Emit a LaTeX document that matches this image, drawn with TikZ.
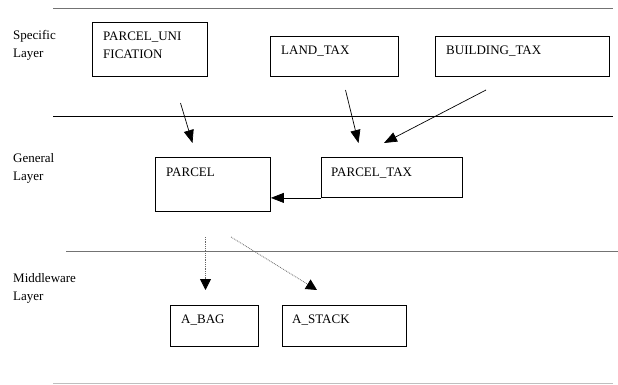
\documentclass[tikz,border=0pt]{standalone}
\usepackage{fontspec}
\setmainfont{Liberation Serif}
\usetikzlibrary{arrows.meta,calc}
\begin{document}
\begin{tikzpicture}[x=1pt,y=1pt,
  box/.style={draw=black,line width=0.9pt,inner sep=0pt,anchor=north west},
  txt/.style={anchor=base west,inner sep=0pt,font=\fontsize{13}{15}\selectfont},
  layerline/.style={line width=1pt},
  solidarrow/.style={line width=0.7pt,-{Triangle[length=13pt,width=10pt]}},
  dotarrow/.style={line width=0.8pt,densely dotted,draw=black!60,-{Triangle[length=11pt,width=11pt,fill=black,color=black]}}
]
\useasboundingbox (0,0) rectangle (618,-385);
% layer lines
\draw[layerline,draw=black!55] (53,-9) -- (613,-9);
\draw[layerline,draw=black] (53,-117) -- (613,-117);
\draw[layerline,draw=black!55] (66,-251) -- (618,-251);
\draw[layerline,draw=black!25] (53,-383) -- (613,-383);
% layer labels
\node[txt] (l1a) at (13,-40) {Specific};
\node[txt] (l1b) at (13,-58) {Layer};
\node[txt] (l2a) at (13,-162) {General};
\node[txt] (l2b) at (13,-180) {Layer};
\node[txt] (l3a) at (13,-282) {Middleware};
\node[txt] (l3b) at (13,-300) {Layer};
% boxes
\node[box,minimum width=115pt,minimum height=54pt] (uni) at (92,-22) {};
\node[box,minimum width=128pt,minimum height=40pt] (land) at (270,-36) {};
\node[box,minimum width=174pt,minimum height=40pt] (build) at (435,-36) {};
\node[box,minimum width=115pt,minimum height=54pt] (parcel) at (155,-157) {};
\node[box,minimum width=141pt,minimum height=40pt] (ptax) at (321,-157) {};
\node[box,minimum width=88pt,minimum height=41pt] (bag) at (170,-305) {};
\node[box,minimum width=124pt,minimum height=41pt] (stack) at (282,-305) {};
% box texts
\node[txt] (tuni1) at ($(uni.north west)+(11,-19)$) {PARCEL\_UNI};
\node[txt] (tuni2) at ($(uni.north west)+(11,-37)$) {FICATION};
\node[txt] (tland) at ($(land.north west)+(11,-19)$) {LAND\_TAX};
\node[txt] (tbuild) at ($(build.north west)+(11,-19)$) {BUILDING\_TAX};
\node[txt] (tparcel) at ($(parcel.north west)+(11,-19)$) {PARCEL};
\node[txt] (tptax) at ($(ptax.north west)+(10,-19)$) {PARCEL\_TAX};
\node[txt] (tbag) at ($(bag.north west)+(11,-18)$) {A\_BAG};
\node[txt] (tstack) at ($(stack.north west)+(10,-18)$) {A\_STACK};
% connector end points
\coordinate (a1s) at (180.5,-103);
\coordinate (a1e) at (192.5,-143);
\coordinate (a2s) at (345.5,-90);
\coordinate (a2e) at (358.5,-143);
\coordinate (a3s) at (486,-90);
\coordinate (a3e) at (384,-143);
\coordinate (d1s) at (205.5,-237);
\coordinate (d1e) at (205.5,-290);
\coordinate (d2s) at (231,-237);
\coordinate (d2e) at (317,-290);
% connectors
\draw[solidarrow] (a1s) -- (a1e);
\draw[solidarrow] (a2s) -- (a2e);
\draw[solidarrow] (a3s) -- (a3e);
\draw[solidarrow] (ptax.south west) -- (ptax.south west -| parcel.east);
\draw[dotarrow] (d1s) -- (d1e);
\draw[dotarrow] (d2s) -- (d2e);
\end{tikzpicture}
\end{document}
